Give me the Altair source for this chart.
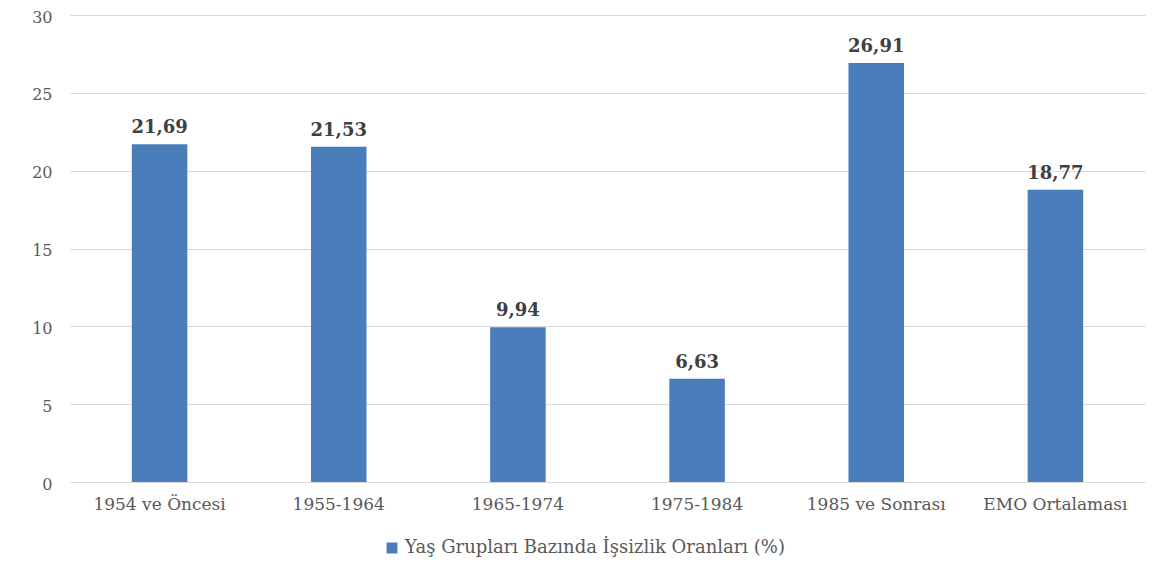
import altair as alt
import pandas as pd

categories = ["1954 ve Öncesi", "1955-1964", "1965-1974", "1975-1984", "1985 ve Sonrası", "EMO Ortalaması"]
values = [21.69, 21.53, 9.94, 6.63, 26.91, 18.77]
labels = ["21,69", "21,53", "9,94", "6,63", "26,91", "18,77"]
series = "Yaş Grupları Bazında İşsizlik Oranları (%)"

df = pd.DataFrame({"cat": categories, "val": values, "lab": labels, "series": [series] * len(categories)})

FONT = "DejaVu Serif"

x = alt.X("cat:N", sort=categories, title=None,
          scale=alt.Scale(paddingInner=0.69, paddingOuter=0.345),
          axis=alt.Axis(labelAngle=0, ticks=False, domain=False, grid=False, labelFont=FONT,
                        labelFontSize=17, labelColor="#595959", labelPadding=14))
y = alt.Y("val:Q", title=None, scale=alt.Scale(domain=[0, 30], nice=False),
          axis=alt.Axis(values=[0, 5, 10, 15, 20, 25, 30], ticks=False, domain=False,
                        labelFont=FONT, labelFontSize=16, labelColor="#595959",
                        labelPadding=18, labelOffset=2, gridColor="#d9d9d9", gridWidth=1))

bars = alt.Chart(df).mark_bar(color="#4a7ebb").encode(
    x=x, y=y,
    color=alt.Color("series:N", scale=alt.Scale(range=["#4a7ebb"]),
                    legend=alt.Legend(title=None, orient="none", legendX=313, legendY=524,
                                      symbolType="square", symbolSize=120,
                                      labelFont=FONT, labelFontSize=18, labelColor="#595959",
                                      labelLimit=700, symbolStrokeWidth=0))
)

text = alt.Chart(df).mark_text(baseline="bottom", dy=-7, font=FONT, fontSize=18,
                               fontWeight="bold", color="#404040").encode(
    x=alt.X("cat:N", sort=categories), y="val:Q", text="lab:N")

chart = alt.layer(bars, text).properties(
    width=1075, height=467,
    background="white",
    autosize=alt.AutoSizeParams(type="none"),
    padding={"left": 62, "top": 7, "right": 8, "bottom": 81},
).configure_view(strokeWidth=0, stroke="transparent")

chart.save("out.html", embed_options={"renderer": "svg", "actions": False})
